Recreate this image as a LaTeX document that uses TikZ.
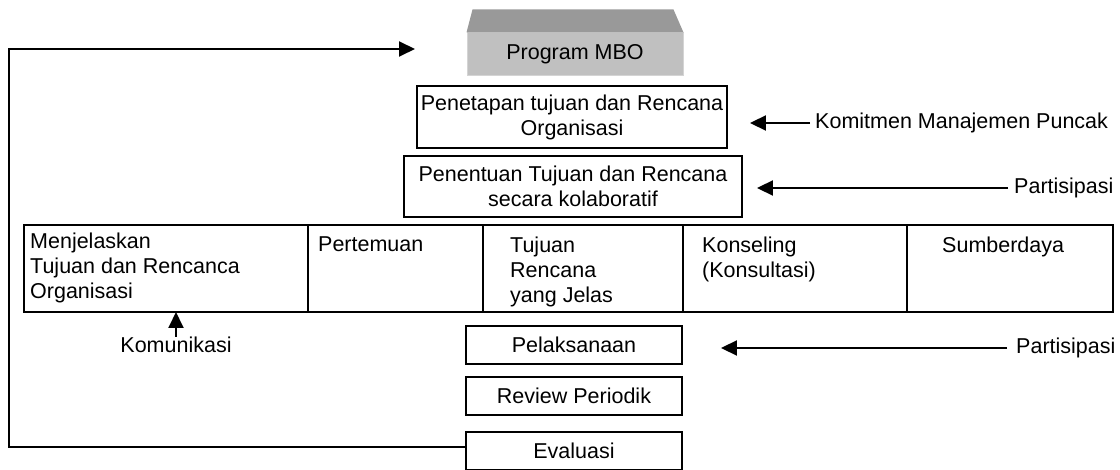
\documentclass[tikz,border=0pt]{standalone}
\usepackage{fontspec}
\setmainfont{Liberation Sans}
\usetikzlibrary{positioning,arrows.meta}
\definecolor{mboatas}{HTML}{999999}
\definecolor{mbodepan}{HTML}{C0C0C0}
\definecolor{mbotepi}{HTML}{D4D4D4}

\tikzset{
  kotak/.style={draw, line width=1.9pt, align=center, inner sep=0pt, minimum width=216pt, minimum height=38pt},
  sel/.style={draw, line width=1.9pt, outer sep=0pt, minimum height=87pt},
  isi/.style={anchor=north west, align=left, inner sep=0pt},
  ket/.style={inner sep=0pt},
  panah/.style={line width=1.9pt, -{Triangle[length=16pt,width=15pt]}},
}

\begin{document}
\begin{tikzpicture}[x=1pt,y=-1pt,font=\fontsize{21.5}{25}\selectfont]
\useasboundingbox (0,0) rectangle (1120,470);

\node[fill=mbodepan, draw=mbotepi, line width=1pt, minimum width=216pt, minimum height=43pt, inner sep=0pt] (mbo) at (575,54.5) {Program MBO};
\fill[mboatas] (mbo.north west) -- ++(6,-23) -- ([xshift=-10pt,yshift=23pt]mbo.north east) -- (mbo.north east) -- cycle;

\node[kotak, minimum width=310pt, minimum height=62pt] (tetap) at (572,117) {Penetapan tujuan dan Rencana\\Organisasi};
\node[kotak, minimum width=338pt, minimum height=61pt] (kolab) at (573,186.5) {Penentuan Tujuan dan Rencana\\secara kolaboratif};

\node[sel, anchor=north west, minimum width=284pt] (c1) at (24,225) {};
\node[sel, right=0pt of c1, minimum width=175pt] (c2) {};
\node[sel, right=0pt of c2, minimum width=200pt] (c3) {};
\node[sel, right=0pt of c3, minimum width=224pt] (c4) {};
\node[sel, right=0pt of c4, minimum width=206pt] (c5) {};
\node[isi] (t1) at ([xshift=6pt,yshift=-8pt]c1.north west) {Menjelaskan\\Tujuan dan Rencanca\\Organisasi};
\node[isi] (t2) at ([xshift=10pt,yshift=-12pt]c2.north west) {Pertemuan};
\node[isi] (t3) at ([xshift=27pt,yshift=-12pt]c3.north west) {Tujuan\\Rencana\\yang Jelas};
\node[isi] (t4) at ([xshift=19pt,yshift=-12pt]c4.north west) {Konseling\\(Konsultasi)};
\node[isi] (t5) at ([xshift=35pt,yshift=-12pt]c5.north west) {Sumberdaya};

\node[kotak] (laksana) at (574,345) {Pelaksanaan};
\node[kotak, below=11pt of laksana] (review) {Review Periodik};
\node[kotak, below=15pt of review] (evaluasi) {Evaluasi};

\node[ket, anchor=west] (komitmen) at (815,123) {Komitmen Manajemen Puncak};
\node[ket, anchor=west] (partisipasi1) at (1014,188) {Partisipasi};
\node[ket, anchor=west] (partisipasi2) at (1016,348) {Partisipasi};
\node[ket] (komunikasi) at (176,345) {Komunikasi};

\draw[panah] ([xshift=-5pt]komitmen.west) -- ([xshift=22pt]tetap.east |- komitmen.west);
\draw[panah] ([xshift=-6pt]partisipasi1.west) -- ([xshift=14pt]kolab.east |- partisipasi1.west);
\draw[panah] ([xshift=-9pt]partisipasi2.west) -- ([xshift=38pt]laksana.east |- partisipasi2.west);
\draw[panah] (komunikasi.north) -- (komunikasi.north |- c1.south);

\coordinate (sudut) at (9,49);
\coordinate (ujung) at (415,49);
\draw[panah] ([yshift=4pt]evaluasi.west) -| (sudut) -- (ujung);
\end{tikzpicture}
\end{document}
